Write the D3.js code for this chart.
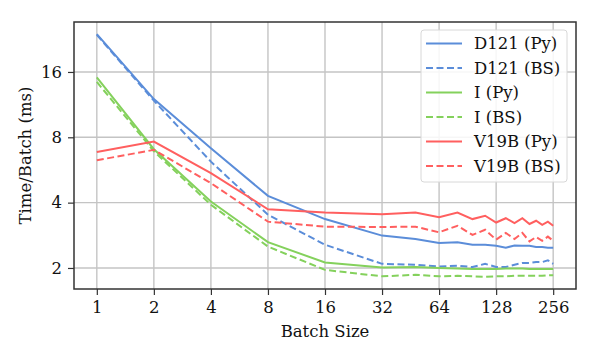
<!DOCTYPE html>
<html>
<head>
<meta charset="utf-8">
<script src="https://cdn.jsdelivr.net/npm/d3@7"></script>
<style>
  body { margin: 0; background: #fff; }
  text { font-family: "DejaVu Serif", serif; fill: #111; }
</style>
</head>
<body>
<div id="chart"></div>
<script>
// batch sizes on the x axis
const batchSizes = [1, 2, 4, 8, 16, 32, 48, 64, 80, 96, 112, 128, 144, 160, 176, 192, 208, 224, 240, 256];
const xTicks = [1, 2, 4, 8, 16, 32, 64, 128, 256];
const yTicks = [2, 4, 8, 16];

// time per batch in ms
const d121Py = [23.9, 12.0, 7.12, 4.30, 3.36, 2.82, 2.72, 2.61, 2.63, 2.56, 2.56, 2.53, 2.48, 2.54, 2.53, 2.53, 2.50, 2.50, 2.48, 2.48];
const d121BS = [23.7, 11.8, 6.18, 3.52, 2.56, 2.09, 2.07, 2.03, 2.05, 2.02, 2.09, 2.02, 2.02, 2.07, 2.11, 2.11, 2.13, 2.13, 2.17, 2.09];
const iPy    = [15.1, 7.05, 4.05, 2.63, 2.12, 2.01, 2.02, 2.00, 1.99, 1.98, 1.98, 1.98, 1.99, 1.99, 1.99, 1.98, 1.98, 1.98, 1.98, 1.98];
const iBS    = [14.4, 6.90, 3.91, 2.51, 1.96, 1.83, 1.86, 1.83, 1.84, 1.83, 1.82, 1.83, 1.83, 1.84, 1.84, 1.84, 1.84, 1.84, 1.85, 1.85];
const v19Py  = [6.85, 7.64, 5.47, 3.73, 3.60, 3.54, 3.60, 3.43, 3.60, 3.36, 3.48, 3.24, 3.39, 3.22, 3.39, 3.19, 3.30, 3.16, 3.27, 3.13];
const v19BS  = [6.27, 7.00, 4.92, 3.27, 3.10, 3.09, 3.10, 2.92, 3.13, 2.84, 3.00, 2.70, 2.90, 2.72, 2.90, 2.65, 2.78, 2.67, 2.79, 2.67];

const seriesNames = ["D121 (Py)", "D121 (BS)", "I (Py)", "I (BS)", "V19B (Py)", "V19B (BS)"];
const seriesValues = [d121Py, d121BS, iPy, iBS, v19Py, v19BS];
const seriesColors = ["#5b8dd9", "#5b8dd9", "#84d15c", "#84d15c", "#ff5f5f", "#ff5f5f"];
const seriesDashed = [false, true, false, true, false, true];

const width = 598;
const height = 359;
const margin = {top: 22, right: 22, bottom: 70, left: 74};
const plotW = width - margin.left - margin.right;
const plotH = height - margin.top - margin.bottom;
const fontSize = '16.5px';

const svg = d3.select('#chart').append('svg')
    .attr('width', width)
    .attr('height', height);

const g = svg.append('g')
    .attr('transform', `translate(${margin.left},${margin.top})`);

// log2 scales with matplotlib-like 5% padding in log space
const xLog = [0, 8];
const xPad = (xLog[1] - xLog[0]) * 0.05;
const x = d3.scaleLog().base(2)
    .domain([2 ** (xLog[0] - xPad), 2 ** (xLog[1] + xPad)])
    .range([0, plotW]);

const allVals = seriesValues.flat();
const yLog = [Math.log2(d3.min(allVals)), Math.log2(d3.max(allVals))];
const yPad = (yLog[1] - yLog[0]) * 0.05;
const y = d3.scaleLog().base(2)
    .domain([2 ** (yLog[0] - yPad), 2 ** (yLog[1] + yPad)])
    .range([plotH, 0]);

// grid
g.append('g').selectAll('line').data(xTicks).enter().append('line')
    .attr('x1', d => x(d)).attr('x2', d => x(d))
    .attr('y1', 0).attr('y2', plotH)
    .attr('stroke', '#c4c4c4').attr('stroke-width', 1.4);
g.append('g').selectAll('line').data(yTicks).enter().append('line')
    .attr('y1', d => y(d)).attr('y2', d => y(d))
    .attr('x1', 0).attr('x2', plotW)
    .attr('stroke', '#c4c4c4').attr('stroke-width', 1.4);

// lines
const line = d3.line()
    .x((d, i) => x(batchSizes[i]))
    .y(d => y(d));

seriesValues.forEach((vals, k) => {
    g.append('path')
        .datum(vals)
        .attr('d', line)
        .attr('fill', 'none')
        .attr('stroke', seriesColors[k])
        .attr('stroke-width', 2)
        .attr('stroke-dasharray', seriesDashed[k] ? '7,3.5' : null);
});

// axes
const xAxis = d3.axisBottom(x).tickValues(xTicks).tickFormat(d3.format('d'))
    .tickSize(6).tickPadding(6.5);
g.append('g')
    .attr('transform', `translate(0,${plotH})`)
    .call(xAxis)
    .call(a => a.select('.domain').remove())
    .call(a => a.selectAll('line').attr('stroke', '#333').attr('stroke-width', 1.2))
    .call(a => a.selectAll('text').style('font-size', fontSize).attr('fill', '#111'));

const yAxis = d3.axisLeft(y).tickValues(yTicks).tickFormat(d3.format('d'))
    .tickSize(6).tickPadding(6);
g.append('g')
    .call(yAxis)
    .call(a => a.select('.domain').remove())
    .call(a => a.selectAll('line').attr('stroke', '#333').attr('stroke-width', 1.2))
    .call(a => a.selectAll('text').style('font-size', fontSize).attr('fill', '#111'));

// frame
g.append('rect')
    .attr('width', plotW).attr('height', plotH)
    .attr('fill', 'none').attr('stroke', '#333').attr('stroke-width', 1.5);

// axis labels
svg.append('text')
    .text('Batch Size')
    .attr('x', margin.left + plotW / 2)
    .attr('y', 337)
    .attr('text-anchor', 'middle')
    .style('font-size', fontSize);

svg.append('text')
    .text('Time/Batch (ms)')
    .attr('transform', `translate(31,${margin.top + plotH / 2}) rotate(-90)`)
    .attr('text-anchor', 'middle')
    .style('font-size', fontSize);

// legend
const legend = svg.append('g').attr('transform', 'translate(421,30)');
legend.append('rect')
    .attr('width', 146).attr('height', 152)
    .attr('rx', 3)
    .attr('fill', 'rgba(255,255,255,0.85)')
    .attr('stroke', '#d8d8d8');

seriesNames.forEach((name, k) => {
    const ly = 13.5 + k * 24.5;
    legend.append('line')
        .attr('x1', 5).attr('x2', 41)
        .attr('y1', ly).attr('y2', ly)
        .attr('stroke', seriesColors[k])
        .attr('stroke-width', 2)
        .attr('stroke-dasharray', seriesDashed[k] ? '7,3.5' : null);
    legend.append('text')
        .text(name)
        .attr('x', 53)
        .attr('y', ly)
        .attr('dy', '0.35em')
        .style('font-size', fontSize);
});
</script>
</body>
</html>
